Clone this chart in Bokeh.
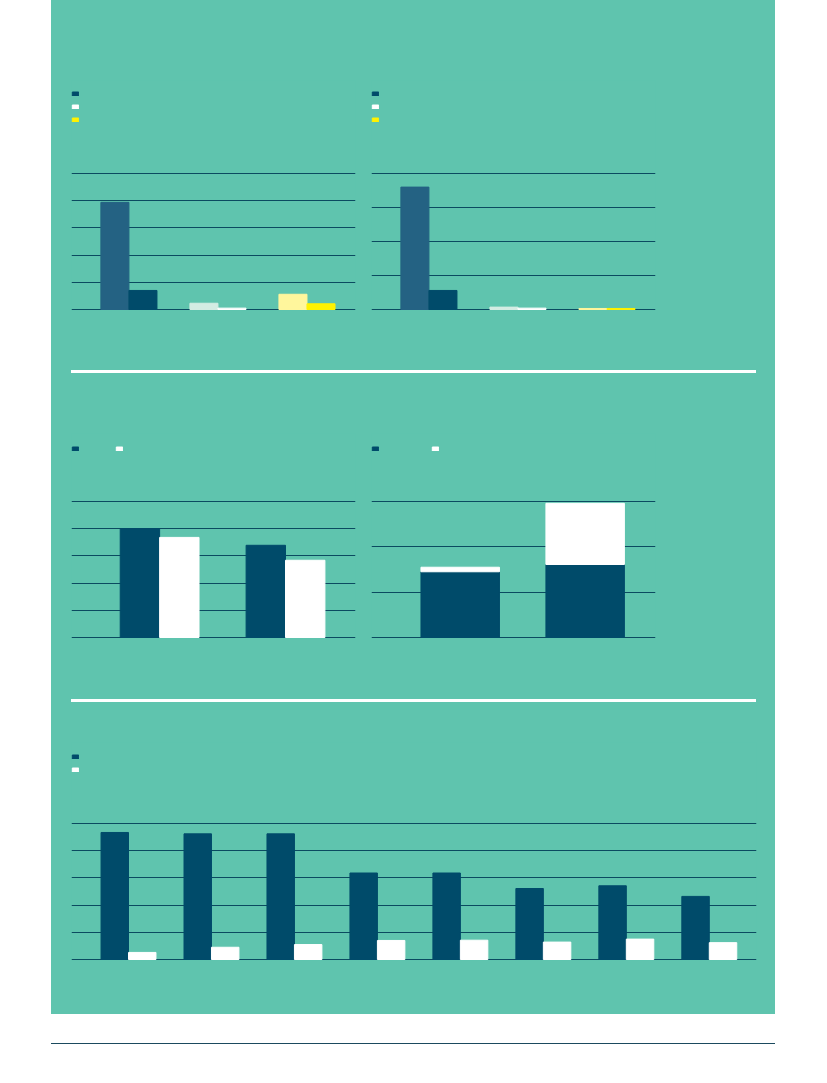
from bokeh.plotting import figure
from bokeh.models import Grid, FixedTicker, Legend, LegendItem, ColumnDataSource, Spacer, Range1d, Div
from bokeh.layouts import row, column
from bokeh.embed import file_html
from bokeh.resources import INLINE

# ---------------- colours ----------------
GREEN = "#5fc4ae"
NAVY = "#004b6a"
MIDBLUE = "#246283"
MINT = "#d3ece3"
WHITE = "#ffffff"
PALEYELLOW = "#fff69c"
YELLOW = "#fff200"
GRID = "#0b4a60"
RULE = "#1b4a5e"

# ---------------- data ----------------
# Chart 1 (top left): three categories, two bars each
c1_cats = [1, 2, 3]
c1_first = [39.4, 2.3, 5.6]
c1_second = [7.0, 0.5, 2.1]
c1_first_colors = [MIDBLUE, MINT, PALEYELLOW]
c1_second_colors = [NAVY, WHITE, YELLOW]
c1_ticks = [0, 10, 20, 30, 40, 50]

# Chart 2 (top right)
c2_cats = [1, 2, 3]
c2_first = [36.0, 0.7, 0.3]
c2_second = [5.6, 0.4, 0.3]
c2_ticks = [0, 10, 20, 30, 40]

# Chart 3 (middle left): two categories, two series
c3_cats = [1, 2]
c3_dark = [40.0, 33.9]
c3_white = [36.8, 28.4]
c3_ticks = [0, 10, 20, 30, 40, 50]

# Chart 4 (middle right): stacked
c4_cats = [1, 2]
c4_dark = [14.5, 16.1]
c4_white = [1.0, 13.5]
c4_ticks = [0, 10, 20, 30]

# Chart 5 (bottom): eight categories, two series
c5_cats = [1, 2, 3, 4, 5, 6, 7, 8]
c5_dark = [46.7, 46.2, 46.2, 31.8, 31.8, 26.1, 27.1, 23.2]
c5_white = [2.6, 4.5, 5.5, 7.0, 7.1, 6.4, 7.5, 6.2]
c5_ticks = [0, 10, 20, 30, 40, 50]

GRID_PX = 136.0   # pixel height from first to last gridline


def base_fig(w, h, bl, br, bt, bb, xr, ticks):
    """Frame extends from bt (top, includes legend area) to h-bb (1px below the baseline)."""
    lo, hi = ticks[0], ticks[-1]
    per_px = (hi - lo) / GRID_PX
    frame_h = h - bt - bb
    y_lo = lo - per_px
    y_hi = y_lo + frame_h * per_px
    p = figure(width=w, height=h,
               x_range=Range1d(*xr), y_range=Range1d(y_lo, y_hi),
               x_axis_type=None, y_axis_type=None,
               toolbar_location=None, output_backend="svg",
               min_border_left=bl, min_border_right=br,
               min_border_top=bt, min_border_bottom=bb,
               background_fill_color=GREEN, border_fill_color=GREEN,
               outline_line_color=None, margin=0)
    p.add_layout(Grid(dimension=1, ticker=FixedTicker(ticks=ticks),
                      grid_line_color=GRID, grid_line_width=1))
    return p


def make_legend(items, vy, orientation="vertical", spacing=8, label_width=0):
    return Legend(items=items, location=(0, vy), orientation=orientation,
                  glyph_width=8, glyph_height=5, label_height=5,
                  label_width=label_width, label_standoff=0,
                  spacing=spacing, padding=0, margin=0,
                  border_line_color=None, background_fill_alpha=0,
                  label_text_font_size="4px", label_text_color=GREEN)


def paired_chart(w, bl, br, cats, first, second, ticks):
    bw = 0.315
    p = base_fig(w, 370, bl, br, 80, 60, (0.355, 3.545), ticks)
    s1 = ColumnDataSource(dict(x=[c - bw / 2 for c in cats], top=first, color=c1_first_colors))
    s2 = ColumnDataSource(dict(x=[c + bw / 2 for c in cats], top=second, color=c1_second_colors))
    p.vbar(x="x", top="top", bottom=0, width=bw, color="color", source=s1)
    r2 = p.vbar(x="x", top="top", bottom=0, width=bw, color="color", source=s2)
    items = [LegendItem(label=" ", renderers=[r2], index=i) for i in range(len(cats))]
    p.add_layout(make_legend(items, 188))
    return p


f1 = paired_chart(311, 20, 7, c1_cats, c1_first, c1_second, c1_ticks)
f2 = paired_chart(413, 9, 120, c2_cats, c2_first, c2_second, c2_ticks)

# Chart 3
f3 = base_fig(311, 326, 20, 7, 60, 61, (0.30, 2.556), c3_ticks)
bw3 = 0.313
r3a = f3.vbar(x=[c - bw3 / 2 for c in c3_cats], top=c3_dark, bottom=0, width=bw3, color=NAVY)
r3b = f3.vbar(x=[c + bw3 / 2 for c in c3_cats], top=c3_white, bottom=0, width=bw3, color=WHITE)
f3.add_layout(make_legend([LegendItem(label=" ", renderers=[r3a]),
                           LegendItem(label=" ", renderers=[r3b])],
                          187, orientation="horizontal", spacing=0, label_width=36))

# Chart 4 (stacked)
f4 = base_fig(413, 326, 9, 120, 60, 61, (0.29, 2.563), c4_ticks)
s4 = ColumnDataSource(dict(x=c4_cats, dark=c4_dark, white=c4_white))
r4 = f4.vbar_stack(["dark", "white"], x="x", width=0.628, color=[NAVY, WHITE], source=s4)
f4.add_layout(make_legend([LegendItem(label=" ", renderers=[r4[0]]),
                           LegendItem(label=" ", renderers=[r4[1]])],
                          187, orientation="horizontal", spacing=0, label_width=52))

# Chart 5
f5 = base_fig(724, 312, 20, 19, 40, 54, (0.313, 8.569), c5_ticks)
bw5 = 0.331
r5a = f5.vbar(x=[c - bw5 / 2 for c in c5_cats], top=c5_dark, bottom=0, width=bw5, color=NAVY)
r5b = f5.vbar(x=[c + bw5 / 2 for c in c5_cats], top=c5_white, bottom=0, width=bw5, color=WHITE)
f5.add_layout(make_legend([LegendItem(label=" ", renderers=[r5a]),
                           LegendItem(label=" ", renderers=[r5b])], 188))


def separator():
    return Div(text="", width=685, height=3, margin=(0, 19, 0, 20),
               styles={"background-color": WHITE})


green_col = column(row(f1, f2, spacing=0, margin=0), separator(),
                   row(f3, f4, spacing=0, margin=0), separator(), f5,
                   spacing=0, margin=0, styles={"background-color": GREEN})

rule = Div(text="", width=724, height=1, margin=(29, 0, 0, 0),
           styles={"background-color": RULE})

root = column(row(Spacer(width=51, height=1014, margin=0), green_col, spacing=0, margin=0),
              row(Spacer(width=51, height=30, margin=0), rule, spacing=0, margin=0),
              spacing=0, margin=0)

open("out.html", "w").write(file_html(root, INLINE))
